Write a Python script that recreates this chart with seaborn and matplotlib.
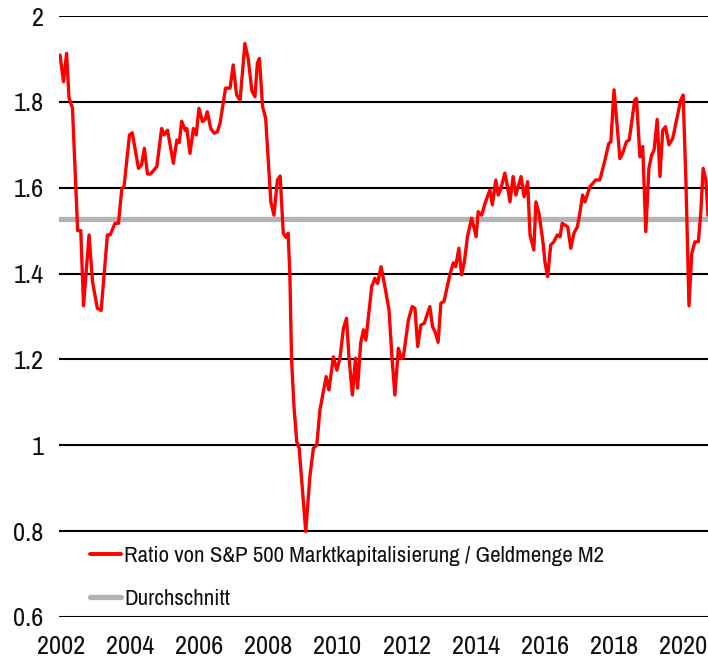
import matplotlib
matplotlib.use("Agg")
import matplotlib.pyplot as plt
import seaborn as sns
import pandas as pd

# decimal year of each vertex
years = [
    2001.97, 2002.07, 2002.16, 2002.23, 2002.33, 2002.48, 2002.57, 2002.65, 2002.81, 2002.91,
    2003.05, 2003.16, 2003.34, 2003.42, 2003.56, 2003.66, 2003.76, 2003.82, 2003.98, 2004.06,
    2004.24, 2004.33, 2004.41, 2004.50, 2004.59, 2004.77, 2004.91, 2004.98, 2005.08, 2005.25,
    2005.35, 2005.42, 2005.49, 2005.59, 2005.64, 2005.73, 2005.83, 2005.91, 2005.99, 2006.09,
    2006.17, 2006.23, 2006.33, 2006.43, 2006.52, 2006.60, 2006.76, 2006.89, 2006.98, 2007.08,
    2007.18, 2007.32, 2007.42, 2007.52, 2007.61, 2007.68, 2007.74, 2007.83, 2007.92, 2008.07,
    2008.16, 2008.26, 2008.34, 2008.43, 2008.51, 2008.57, 2008.62, 2008.67, 2008.74, 2008.82,
    2008.89, 2009.08, 2009.20, 2009.30, 2009.40, 2009.49, 2009.67, 2009.75, 2009.88, 2009.98,
    2010.07, 2010.17, 2010.26, 2010.33, 2010.43, 2010.52, 2010.58, 2010.67, 2010.75, 2010.82,
    2010.99, 2011.08, 2011.16, 2011.26, 2011.37, 2011.49, 2011.58, 2011.66, 2011.76, 2011.84,
    2011.90, 2012.05, 2012.16, 2012.24, 2012.32, 2012.41, 2012.51, 2012.67, 2012.75, 2012.82,
    2012.91, 2012.99, 2013.08, 2013.25, 2013.35, 2013.42, 2013.51, 2013.59, 2013.67, 2013.76,
    2013.88, 2013.93, 2014.01, 2014.07, 2014.17, 2014.27, 2014.41, 2014.48, 2014.58, 2014.65,
    2014.73, 2014.84, 2014.92, 2014.99, 2015.08, 2015.16, 2015.31, 2015.40, 2015.50, 2015.57,
    2015.68, 2015.74, 2015.83, 2015.95, 2016.00, 2016.08, 2016.17, 2016.26, 2016.36, 2016.44,
    2016.50, 2016.58, 2016.66, 2016.75, 2016.84, 2016.94, 2017.01, 2017.09, 2017.16, 2017.30,
    2017.47, 2017.59, 2017.74, 2017.85, 2017.91, 2018.00, 2018.09, 2018.17, 2018.25, 2018.36,
    2018.44, 2018.60, 2018.65, 2018.75, 2018.83, 2018.92, 2019.01, 2019.09, 2019.16, 2019.25,
    2019.33, 2019.41, 2019.49, 2019.59, 2019.70, 2019.83, 2019.93, 2020.00, 2020.08, 2020.17,
    2020.25, 2020.34, 2020.44, 2020.51, 2020.58, 2020.66, 2020.72,
]

ratio = [
    1.909, 1.847, 1.913, 1.809, 1.785, 1.500, 1.500, 1.325, 1.490, 1.381,
    1.319, 1.314, 1.490, 1.490, 1.517, 1.517, 1.599, 1.602, 1.723, 1.728,
    1.645, 1.653, 1.692, 1.632, 1.632, 1.649, 1.738, 1.723, 1.734, 1.657,
    1.711, 1.705, 1.755, 1.734, 1.738, 1.680, 1.738, 1.723, 1.785, 1.754,
    1.759, 1.777, 1.738, 1.727, 1.730, 1.750, 1.832, 1.832, 1.886, 1.816,
    1.804, 1.936, 1.898, 1.826, 1.812, 1.890, 1.901, 1.789, 1.762, 1.567,
    1.536, 1.618, 1.627, 1.494, 1.484, 1.494, 1.400, 1.199, 1.090, 1.008,
    0.993, 0.799, 0.927, 0.993, 1.001, 1.082, 1.160, 1.129, 1.206, 1.175,
    1.203, 1.272, 1.296, 1.206, 1.117, 1.203, 1.133, 1.238, 1.269, 1.245,
    1.370, 1.389, 1.377, 1.416, 1.370, 1.315, 1.199, 1.117, 1.226, 1.203,
    1.203, 1.292, 1.323, 1.319, 1.230, 1.280, 1.284, 1.323, 1.276, 1.265,
    1.240, 1.331, 1.335, 1.397, 1.425, 1.416, 1.459, 1.397, 1.428, 1.486,
    1.529, 1.513, 1.486, 1.544, 1.536, 1.564, 1.595, 1.560, 1.618, 1.583,
    1.599, 1.634, 1.602, 1.567, 1.626, 1.583, 1.626, 1.579, 1.614, 1.490,
    1.455, 1.567, 1.540, 1.470, 1.428, 1.393, 1.467, 1.474, 1.490, 1.486,
    1.517, 1.513, 1.509, 1.459, 1.494, 1.509, 1.540, 1.583, 1.567, 1.602,
    1.618, 1.618, 1.665, 1.703, 1.707, 1.828, 1.745, 1.668, 1.680, 1.707,
    1.711, 1.804, 1.808, 1.672, 1.696, 1.498, 1.645, 1.676, 1.688, 1.759,
    1.626, 1.734, 1.742, 1.700, 1.715, 1.765, 1.804, 1.816, 1.618, 1.325,
    1.447, 1.474, 1.474, 1.540, 1.645, 1.618, 1.536,
]

average = 1.527

y_ticks = [0.6, 0.8, 1.0, 1.2, 1.4, 1.6, 1.8, 2.0]
y_labels = ["0.6", "0.8", "1", "1.2", "1.4", "1.6", "1.8", "2"]
x_ticks = [2002, 2004, 2006, 2008, 2010, 2012, 2014, 2016, 2018, 2020]

series_label = "Ratio von S&P 500 Marktkapitalisierung / Geldmenge M2"
avg_label = "Durchschnitt"

df = pd.DataFrame({"year": years, "ratio": ratio})

sns.set_style("white")
# no Arial Narrow here, Archivo Narrow is the closest condensed grotesk
plt.rcParams['font.family'] = ['Archivo Narrow', 'Liberation Sans', 'DejaVu Sans']

fig = plt.figure(figsize=(7.08, 6.65), dpi=100)
ax = fig.add_axes([59 / 708, 1 - 617 / 665, 1 - 59 / 708, (617 - 16) / 665])

for v in y_ticks:
    ax.axhline(v, color='black', lw=1.5, zorder=1)

ax.axhline(average, color='#b3b3b3', lw=3.8, zorder=2, label=avg_label)
sns.lineplot(x='year', y='ratio', data=df, color='#ff0000', lw=2.4,
             ax=ax, zorder=3, label=series_label)

ax.set_xlim(2001.94, 2020.72)
ax.set_ylim(0.6, 2.0)
ax.set_xticks(x_ticks)
ax.set_xticklabels([str(t) for t in x_ticks])
ax.set_yticks(y_ticks)
ax.set_yticklabels(y_labels)
ax.tick_params(axis='both', length=0, labelsize=19, colors='#111111')
ax.tick_params(axis='y', pad=11)
ax.tick_params(axis='x', pad=13)
ax.set_xlabel('')
ax.set_ylabel('')
for s in ax.spines.values():
    s.set_visible(False)

# legend order: series first, then average
h, l = ax.get_legend_handles_labels()
order = [l.index(series_label), l.index(avg_label)]
leg = ax.legend([h[i] for i in order], [l[i] for i in order],
                loc='upper left', bbox_to_anchor=(0.0478, 0.118),
                frameon=False, fontsize=16.5, handlelength=1.35,
                handletextpad=0.13, labelspacing=1.0,
                borderpad=0, borderaxespad=0)
for t in leg.get_texts():
    t.set_color('#111111')
leg.legend_handles[1].set_linewidth(3.8)
leg.legend_handles[0].set_linewidth(2.8)

fig.savefig('out.png', dpi=100)
